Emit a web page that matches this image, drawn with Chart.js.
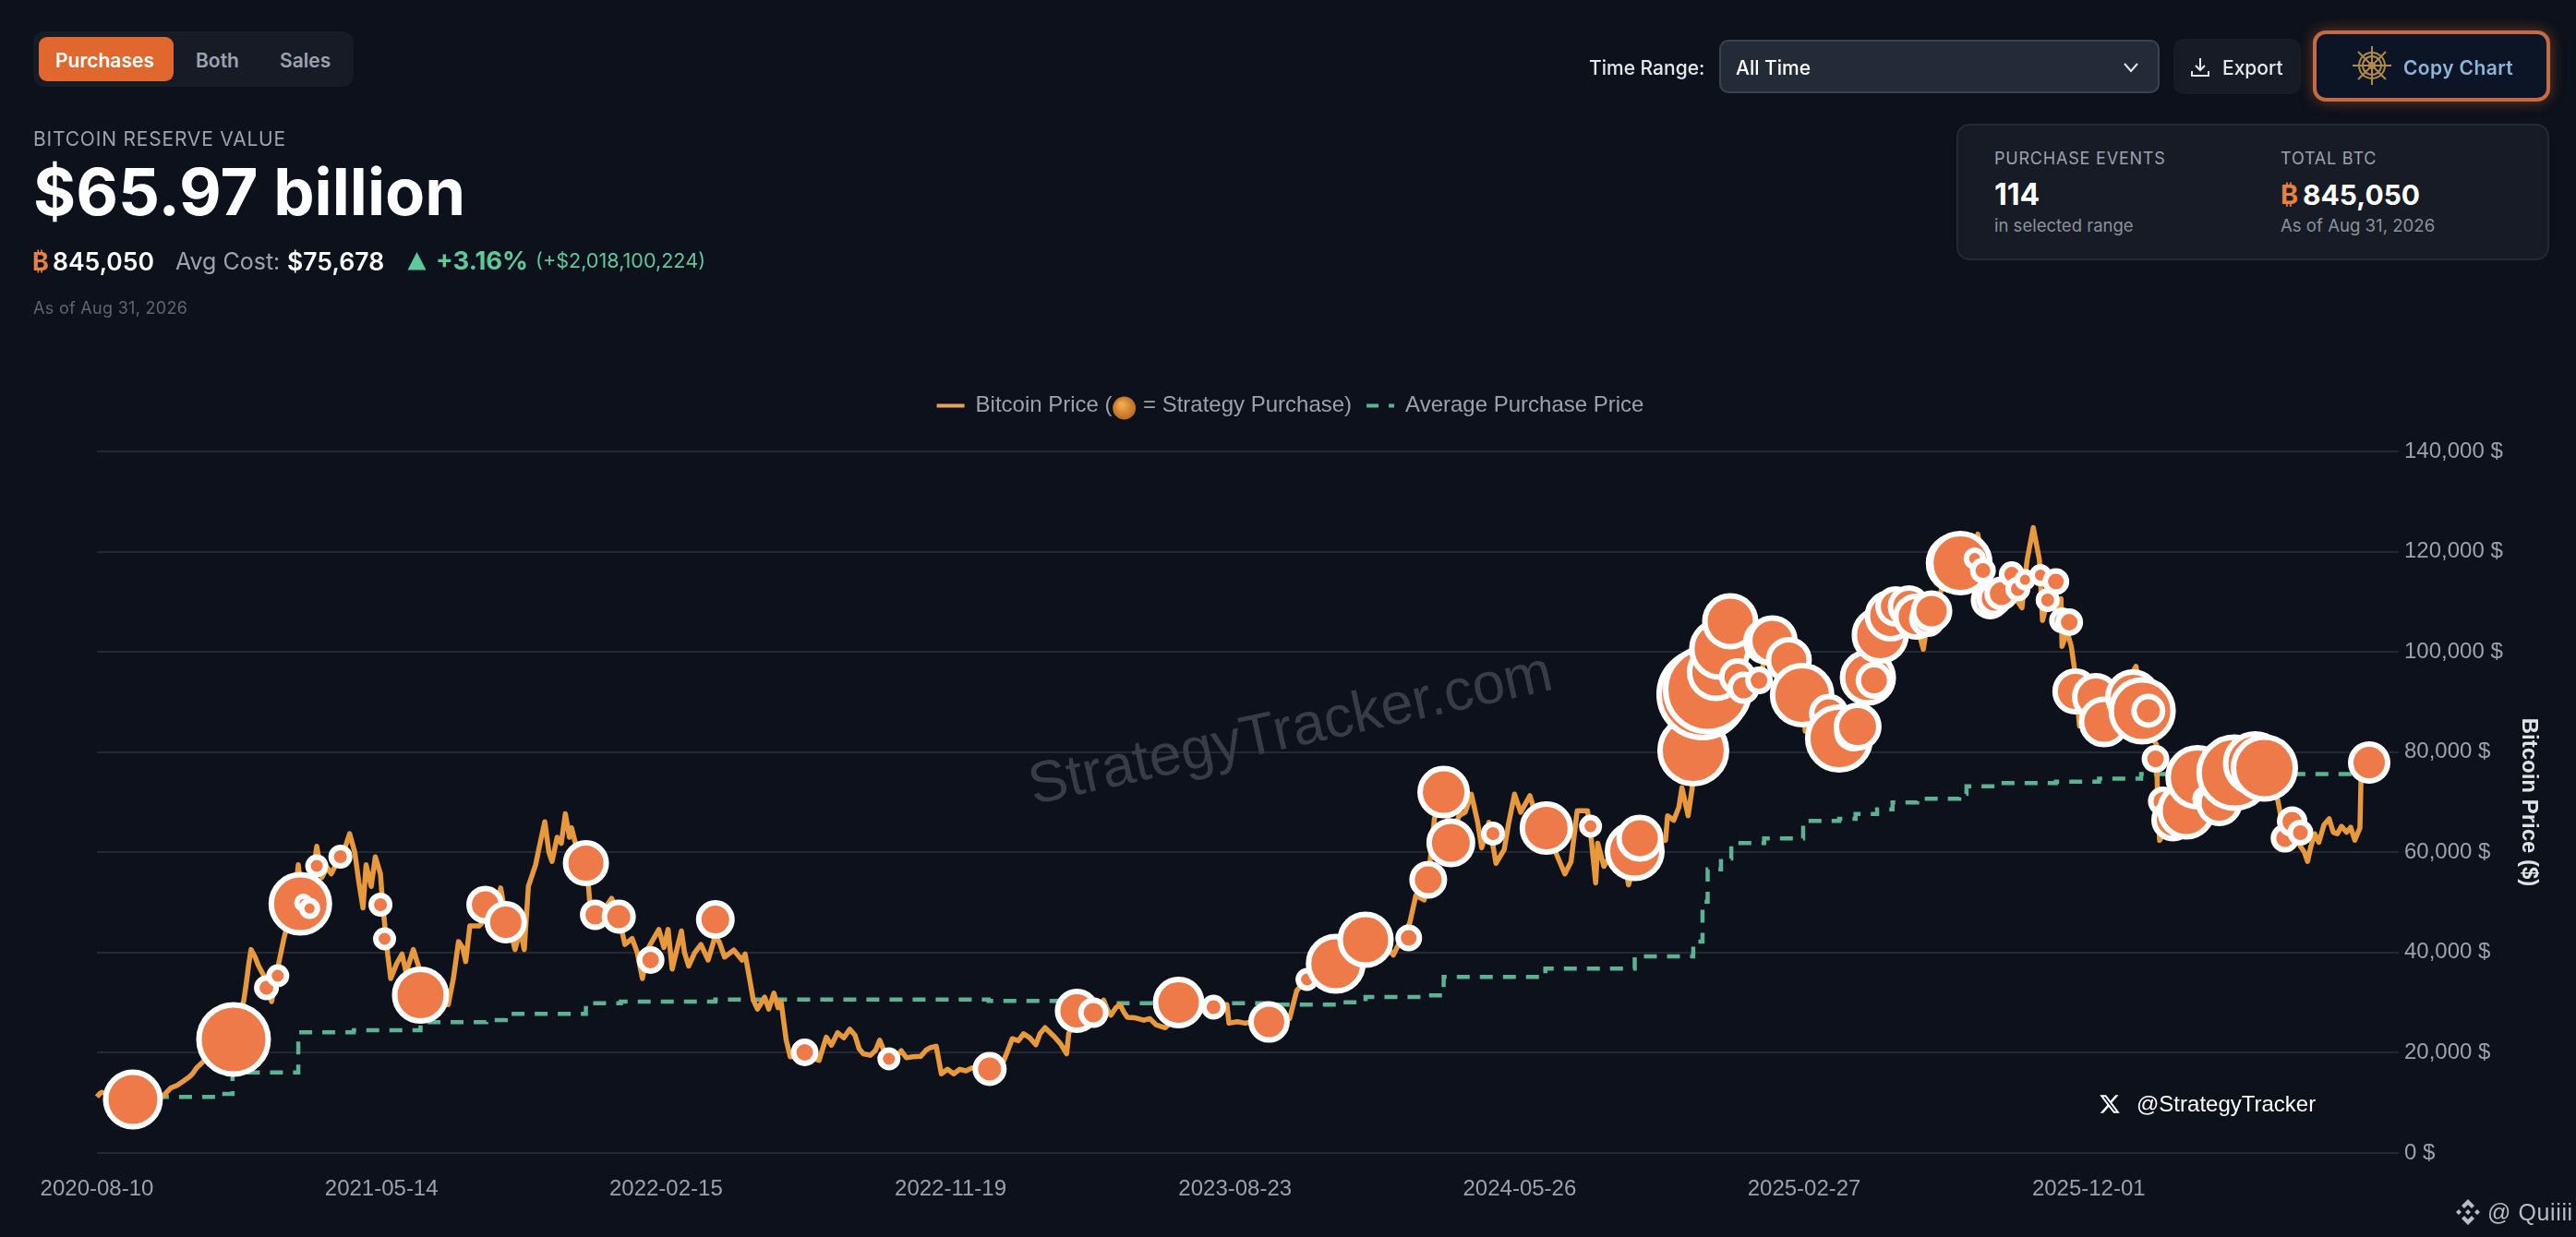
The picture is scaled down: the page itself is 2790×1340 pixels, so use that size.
<!DOCTYPE html>
<html>
<head>
<meta charset="utf-8">
<title>Strategy Tracker</title>
<script src="https://cdn.jsdelivr.net/npm/chart.js@4"></script>
<style>
html, body { margin: 0; padding: 0; width: 2790px; height: 1340px; background: #0c111b; overflow: hidden; font-family: Inter, "Liberation Sans", sans-serif; }
canvas { position: absolute; left: 0; top: 0; }
.t { position: absolute; white-space: nowrap; line-height: 1; transform: translateY(-50%); }
.box { position: absolute; box-sizing: border-box; }
.btc { color: #e8803f; font-family: "DejaVu Sans", Inter, sans-serif; font-weight: 700; }
</style>
</head>
<body>
<canvas id="myChart" width="2790" height="1340"></canvas>

<div class="box" style="left:36px;top:34px;width:347px;height:60px;background:#171b26;border-radius:12px"></div>
<div class="box" style="left:42px;top:40px;width:146px;height:48px;background:#e0672e;border-radius:9px"></div>
<div class="t" style="left:60px;top:65px;font-size:21px;font-weight:600;color:#fff">Purchases</div>
<div class="t" style="left:212px;top:65px;font-size:21px;font-weight:600;color:#9ca3af">Both</div>
<div class="t" style="left:303px;top:65px;font-size:21px;font-weight:600;color:#9ca3af">Sales</div>

<div class="t" style="left:36px;top:150px;font-size:21px;letter-spacing:.8px;color:#9ca3af">BITCOIN RESERVE VALUE</div>
<div class="t" style="left:36px;top:208px;font-size:70.5px;font-weight:700;color:#fff">$65.97 billion</div>

<div class="t btc" style="left:35px;top:283px;font-size:27px">₿</div>
<div class="t" style="left:57px;top:283px;font-size:26.5px;font-weight:600;color:#fff">845,050</div>
<div class="t" style="left:190px;top:283px;font-size:25px;color:#9ca3af">Avg Cost:</div>
<div class="t" style="left:311px;top:283px;font-size:26.6px;font-weight:600;color:#fff">$75,678</div>
<svg class="box" style="left:441px;top:272px" width="21" height="21" viewBox="0 0 21 21"><path d="M10.5 1 L20.5 20.5 L0.5 20.5 Z" fill="#5fc898"/></svg>
<div class="t" style="left:472px;top:283px;font-size:27.5px;font-weight:700;color:#5fc898">+3.16%</div>
<div class="t" style="left:580px;top:283px;font-size:21.6px;color:#5fc898">(+$2,018,100,224)</div>
<div class="t" style="left:36px;top:334px;font-size:18px;letter-spacing:.3px;color:#5f6571">As of Aug 31, 2026</div>

<div class="t" style="left:1721px;top:73px;font-size:21px;font-weight:500;color:#e5e7eb">Time Range:</div>
<div class="box" style="left:1862px;top:43px;width:477px;height:58px;background:#232a38;border:2px solid #3b4250;border-radius:10px"></div>
<div class="t" style="left:1880px;top:73px;font-size:21px;font-weight:500;color:#fff">All Time</div>
<svg class="box" style="left:2299px;top:66px" width="18" height="14" viewBox="0 0 18 14"><path d="M2 3 L9 11 L16 3" fill="none" stroke="#e5e7eb" stroke-width="2"/></svg>
<div class="box" style="left:2354px;top:42px;width:138px;height:60px;background:#171b26;border-radius:10px"></div>
<svg class="box" style="left:2373px;top:62px" width="20" height="22" viewBox="0 0 20 22"><path d="M10 1 V14 M5 9 L10 14 L15 9 M1 15 V20 H19 V15" fill="none" stroke="#e5e7eb" stroke-width="2"/></svg>
<div class="t" style="left:2407px;top:73px;font-size:21px;font-weight:500;color:#e5e7eb">Export</div>
<div class="box" style="left:2505px;top:33px;width:257px;height:77px;background:#0b1526;border:4px solid #c46a45;border-radius:14px;box-shadow:0 0 16px rgba(224,103,46,.45)"></div>
<svg class="box" style="left:2547px;top:49px" width="44" height="44" viewBox="-22 -22 44 44" fill="none" stroke="#b08a4a" stroke-width="2"><circle r="14"/><circle r="10"/><circle r="3" fill="#b08a4a"/><path d="M0 -21 V21 M-21 0 H21 M-15 -15 L15 15 M-15 15 L15 -15"/></svg>
<div class="t" style="left:2603px;top:73px;font-size:21px;font-weight:600;letter-spacing:.4px;color:#8fb4d8">Copy Chart</div>

<div class="box" style="left:2119px;top:134px;width:642px;height:148px;background:#171b26;border:2px solid #232834;border-radius:14px"></div>
<div class="t" style="left:2160px;top:172px;font-size:18px;letter-spacing:.8px;color:#9ca3af">PURCHASE EVENTS</div>
<div class="t" style="left:2160px;top:211px;font-size:32px;font-weight:700;color:#fff">114</div>
<div class="t" style="left:2160px;top:244px;font-size:18.5px;color:#8b919c">in selected range</div>
<div class="t" style="left:2470px;top:172px;font-size:18px;letter-spacing:.8px;color:#9ca3af">TOTAL BTC</div>
<div class="t btc" style="left:2470px;top:211px;font-size:29px">₿</div>
<div class="t" style="left:2494px;top:211px;font-size:30px;font-weight:700;color:#fff">845,050</div>
<div class="t" style="left:2470px;top:244px;font-size:18.6px;color:#8b919c">As of Aug 31, 2026</div>

<svg class="box" style="left:2273px;top:1184px" width="24" height="24" viewBox="0 0 24 24"><path fill="#fff" d="M18.244 2.25h3.308l-7.227 8.26 8.502 11.24H16.17l-5.214-6.817L4.99 21.75H1.68l7.73-8.835L1.254 2.25H8.08l4.713 6.231zm-1.161 17.52h1.833L7.084 4.126H5.117z"/></svg>
<div class="t" style="left:2314px;top:1196px;font-family:'Liberation Sans';font-size:24px;color:#fff">@StrategyTracker</div>

<svg class="box" style="left:2659px;top:1298px" width="28" height="30" viewBox="-14 -15 28 30" fill="#b9bcc2"><path d="M0 -14 L7 -7 L4 -4 L0 -8 L-4 -4 L-7 -7 Z M0 14 L7 7 L4 4 L0 8 L-4 4 L-7 7 Z M0 -3 L3 0 L0 3 L-3 0 Z M-10 -3 L-7 0 L-10 3 L-13 0 Z M10 -3 L13 0 L10 3 L7 0 Z"/></svg>
<div class="t" style="left:2694px;top:1313px;font-family:'Liberation Sans';font-size:25px;letter-spacing:.6px;color:#b9bcc2">@ Quiiii</div>

<script>
const startDate = '2020-08-10';
const xTickLabels = ['2020-08-10', '2021-05-14', '2022-02-15', '2022-11-19', '2023-08-23', '2024-05-26', '2025-02-27', '2025-12-01'];
const yTickValues = [0, 20000, 40000, 60000, 80000, 100000, 120000, 140000];

// BTC price, days since startDate
const priceDays = [0, 3, 5, 10, 20, 35, 50, 65, 72, 78, 83, 90, 93, 97, 105, 115, 125, 133, 140, 143, 145, 148, 150, 154, 157, 159, 164, 170, 175, 177, 182, 188, 193, 196, 200, 207, 214, 219, 224, 228, 235, 240, 246, 251, 255, 259, 262, 267, 271, 276, 278, 283, 286, 292, 297, 301, 308, 313, 320, 330, 338, 342, 347, 352, 356, 359, 363, 372, 380, 388, 393, 398, 403, 407, 412, 416, 420, 427, 432, 436, 440, 443, 448, 452, 456, 460, 462, 468, 474, 478, 480, 490, 501, 507, 514, 521, 526, 531, 537, 547, 552, 556, 560, 565, 569, 572, 576, 582, 588, 595, 602, 606, 611, 620, 628, 631, 636, 639, 643, 647, 650, 654, 659, 663, 666, 671, 675, 689, 695, 703, 710, 715, 721, 727, 733, 738, 742, 746, 753, 758, 762, 768, 775, 783, 788, 794, 802, 807, 811, 817, 822, 828, 834, 840, 846, 852, 860, 870, 880, 886, 891, 897, 902, 908, 914, 918, 923, 928, 932, 938, 944, 946, 952, 960, 970, 980, 984, 987, 992, 996, 1000, 1003, 1010, 1019, 1025, 1031, 1040, 1050, 1060, 1075, 1090, 1100, 1102, 1110, 1118, 1130, 1141, 1150, 1161, 1165, 1168, 1175, 1185, 1195, 1206, 1220, 1235, 1250, 1262, 1270, 1278, 1284, 1292, 1296, 1302, 1311, 1318, 1326, 1332, 1338, 1344, 1348, 1355, 1362, 1370, 1374, 1380, 1386, 1395, 1400, 1411, 1420, 1429, 1435, 1441, 1451, 1455, 1459, 1461, 1467, 1475, 1484, 1491, 1500, 1515, 1527, 1529, 1535, 1540, 1543, 1549, 1553, 1555, 1563, 1572, 1580, 1590, 1597, 1605, 1618, 1628, 1640, 1650, 1660, 1663, 1686, 1696, 1712, 1724, 1736, 1746, 1760, 1772, 1778, 1782, 1796, 1810, 1824, 1831, 1838, 1847, 1860, 1874, 1877, 1879, 1885, 1891, 1894, 1899, 1907, 1912, 1913, 1918, 1922, 1925, 1930, 1946, 1954, 1970, 1985, 1991, 2000, 2005, 2006, 2008, 2021, 2034, 2045, 2066, 2081, 2101, 2110, 2123, 2130, 2137, 2145, 2149, 2152, 2155, 2159, 2163, 2168, 2173, 2177, 2181, 2185, 2190, 2194, 2198, 2203, 2204, 2205, 2212];
const priceValues = [11200, 11900, 12100, 11800, 11000, 10700, 10900, 11500, 13000, 13500, 14200, 15200, 15800, 17000, 18500, 19200, 19000, 22700, 28000, 30500, 33300, 38000, 40600, 39100, 37500, 36700, 34800, 30200, 35500, 37900, 42800, 47500, 52000, 57500, 50000, 51000, 61200, 55000, 57000, 55700, 58500, 60000, 63700, 60000, 54000, 48900, 57500, 53200, 59100, 55700, 50000, 39700, 34800, 37900, 39700, 36000, 40600, 37300, 32000, 33000, 31500, 29600, 34800, 42200, 41000, 38200, 45300, 45300, 47000, 48000, 52900, 47000, 44000, 40600, 44500, 40600, 53200, 57500, 62400, 66100, 60000, 58200, 63000, 61800, 67700, 63000, 64900, 60000, 57000, 54500, 49500, 47500, 50800, 48000, 41600, 42800, 40000, 34800, 41000, 44600, 41000, 44600, 36700, 41000, 44300, 40000, 37300, 40000, 41600, 38500, 43400, 42000, 39100, 40500, 38500, 39700, 34000, 30500, 28700, 30000, 31100, 28700, 31900, 29000, 30200, 22500, 19200, 19500, 19000, 18500, 23100, 21500, 24000, 23000, 24700, 23500, 20800, 19800, 19500, 20500, 22500, 19500, 18500, 20400, 19000, 19200, 19300, 20500, 21000, 21300, 15800, 16700, 15800, 16700, 16400, 17000, 16800, 16700, 17000, 20100, 22800, 22400, 23800, 23000, 21600, 23800, 25000, 24000, 23200, 21800, 19800, 23800, 27500, 28000, 28000, 30500, 28500, 27500, 29000, 29600, 28000, 27100, 27000, 26500, 26800, 25600, 25000, 27000, 30000, 29800, 29500, 29600, 25900, 26200, 25900, 26500, 26200, 26800, 26800, 30000, 32400, 34000, 34500, 36500, 37500, 42000, 42500, 42500, 39500, 42800, 45900, 51400, 50500, 54500, 66700, 72000, 63000, 67300, 68000, 71600, 66100, 60900, 66000, 57800, 60600, 65500, 71600, 68000, 71300, 68000, 64800, 60000, 55700, 58100, 68300, 68300, 62000, 53900, 61800, 57200, 60000, 62000, 53500, 60000, 62000, 62400, 67300, 66400, 69000, 72900, 67300, 72900, 80300, 91500, 96000, 100500, 106000, 95000, 92800, 94300, 102000, 98500, 97000, 91400, 84200, 87700, 82700, 85000, 94800, 103300, 107200, 108500, 105000, 100500, 106000, 112500, 117500, 119000, 123500, 116000, 110700, 113000, 108800, 115000, 118300, 124800, 118300, 106300, 110300, 108000, 110600, 101100, 104000, 101100, 96800, 85200, 91000, 86000, 92000, 97100, 88200, 83000, 81500, 70000, 62400, 66500, 68300, 75000, 70000, 75900, 77700, 76800, 70400, 62800, 66100, 61200, 60000, 58200, 61000, 63700, 62000, 65500, 66700, 64000, 63700, 65200, 64000, 65000, 62400, 64900, 74100, 77800, 77900];

// average purchase price, new level on each of these days
const avgDays = [35, 118, 132, 196, 250, 315, 379, 398, 476, 480, 510, 602, 868, 954, 1141, 1207, 1235, 1296, 1311, 1410, 1497, 1554, 1563, 1568, 1581, 1591, 1623, 1661, 1696, 1712, 1733, 1748, 1772, 1813, 1820, 1851, 1907, 1949, 1990, 2212];
const avgValues = [11200, 11790, 16090, 24070, 24500, 26100, 26520, 27750, 29600, 29900, 30210, 30640, 30330, 29900, 29600, 30080, 31130, 31440, 35120, 36780, 39230, 42180, 50150, 56610, 58760, 61830, 62750, 66250, 66700, 67660, 68580, 69940, 70700, 71650, 73190, 73800, 74100, 74720, 75640, 75678];

// purchases: day, BTC price at that day, BTC bought
const purchaseDays = [35, 133, 165, 176, 198, 201, 207, 214, 237, 276, 280, 315, 378, 398, 476, 485, 508, 539, 602, 689, 771, 869, 954, 970, 1053, 1087, 1141, 1178, 1206, 1235, 1277, 1296, 1311, 1318, 1359, 1411, 1454, 1497, 1502, 1554, 1563, 1568, 1576, 1580, 1590, 1597, 1603, 1618, 1625, 1631, 1647, 1660, 1686, 1696, 1710, 1714, 1724, 1730, 1736, 1746, 1751, 1764, 1771, 1782, 1786, 1810, 1814, 1828, 1836, 1843, 1847, 1854, 1864, 1870, 1877, 1892, 1899, 1907, 1913, 1920, 1926, 1946, 1954, 1982, 1991, 1997, 2004, 2011, 2021, 2034, 2045, 2052, 2066, 2081, 2101, 2110, 2130, 2137, 2145, 2212];
const purchasePrices = [10680, 22660, 32970, 35370, 49730, 49920, 48810, 57290, 59130, 49550, 42730, 31500, 49550, 46050, 57840, 47520, 47160, 38500, 46600, 20080, 18790, 16760, 28370, 28000, 30020, 29100, 26160, 34630, 37760, 42550, 42920, 54520, 72020, 61890, 63730, 64840, 65210, 60230, 62810, 80310, 91550, 92470, 95970, 100570, 106100, 95050, 92840, 94310, 102050, 102230, 98360, 91360, 87680, 82710, 84000, 85100, 94860, 94310, 103340, 107200, 109050, 109050, 107020, 106650, 108130, 117700, 117700, 118630, 116230, 110340, 110700, 111630, 115490, 112550, 114390, 115310, 110340, 114020, 106280, 105920, 92100, 90990, 86020, 90990, 88230, 88230, 78650, 70180, 66500, 68340, 74970, 70730, 69810, 75890, 77730, 76810, 62810, 66130, 63920, 77920];
const purchaseBtc = [21750, 35150, 2750, 2250, 24800, 1225, 1800, 2250, 2500, 2500, 2250, 19600, 7650, 10000, 12100, 4550, 6000, 3600, 8100, 3600, 2250, 6000, 11000, 4550, 15600, 2750, 9500, 2250, 21750, 18900, 3300, 7650, 16250, 13800, 2500, 16900, 2250, 21750, 12650, 32400, 55200, 51750, 20300, 23250, 18900, 7200, 5250, 3600, 12100, 15000, 12100, 25600, 8550, 28900, 8100, 13200, 18900, 7200, 19600, 15600, 9000, 10000, 12100, 7200, 9500, 22500, 25600, 2025, 3025, 8100, 6800, 6000, 3025, 2750, 1800, 2025, 2500, 3300, 3025, 3600, 12100, 13200, 15000, 18200, 28050, 6000, 3600, 4225, 10500, 20300, 25600, 2750, 12100, 37050, 25600, 28050, 3900, 4550, 3025, 10000];

const legendPrice = 'Bitcoin Price (     = Strategy Purchase)';
const legendAvg = 'Average Purchase Price';
const orange = '#e8993c';
const green = '#5db391';
const labelGrey = '#9ca1ab';

function dayOf(dateStr) {
	return Math.round((Date.parse(dateStr) - Date.parse(startDate)) / 86400000);
}

Chart.defaults.font.family = '"Liberation Sans", Arial, sans-serif';
Chart.defaults.font.size = 24;
Chart.defaults.color = labelGrey;

// watermark under the lines, coin in the legend
const extras = {
	id: 'extras',
	afterLayout(chart) {
		// legend sits on the page centre and higher than the layout would put it
		const l = chart.legend;
		l.left -= 33;
		l.right -= 33;
		l.top = 411.6;
	},
	beforeDatasetsDraw(chart) {
		const ctx = chart.ctx;
		ctx.save();
		ctx.translate(1398, 792);
		ctx.rotate(-12.5 * Math.PI / 180);
		ctx.font = '63px "Liberation Sans"';
		ctx.textAlign = 'center';
		ctx.textBaseline = 'middle';
		ctx.fillStyle = '#383c47';
		ctx.fillText('StrategyTracker.com', 0, 0);
		ctx.restore();
	},
	afterDraw(chart) {
		const ctx = chart.ctx;
		const l = chart.legend;
		const start = (l.left + 16 + l.right - l.lineWidths[0]) / 2;
		ctx.save();
		ctx.font = '24px "Liberation Sans"';
		const x = start + 30 + 12 + ctx.measureText('Bitcoin Price (').width + 13;
		const y = l.top + 16 + 14.4;
		const g = ctx.createRadialGradient(x - 3, y - 4, 2, x, y, 13);
		g.addColorStop(0, '#f2a94f');
		g.addColorStop(1, '#b96a1c');
		ctx.fillStyle = g;
		ctx.beginPath();
		ctx.arc(x, y, 12.5, 0, Math.PI * 2);
		ctx.fill();
		ctx.restore();
	},
};

new Chart(document.getElementById('myChart').getContext('2d'), {
	type: 'line',
	plugins: [extras],
	data: {
		datasets: [
			{
				type: 'bubble',
				data: purchaseDays.map((d, i) => ({ x: d, y: purchasePrices[i], r: 0.2 * Math.sqrt(purchaseBtc[i]) })),
				backgroundColor: '#ee7a4a',
				borderColor: '#ffffff',
				borderWidth: 6,
				clip: false,
				order: 0,
			},
			{
				label: legendPrice,
				data: priceDays.map((d, i) => ({ x: d, y: priceValues[i] })),
				borderColor: orange,
				borderWidth: 5.5,
				pointRadius: 0,
				borderJoinStyle: 'round',
				clip: false,
				order: 1,
			},
			{
				label: legendAvg,
				data: avgDays.map((d, i) => ({ x: d, y: avgValues[i] })),
				borderColor: green,
				borderWidth: 4.5,
				borderDash: [14, 11],
				pointRadius: 0,
				stepped: true,
				order: 2,
			},
		],
	},
	options: {
		responsive: false,
		animation: false,
		devicePixelRatio: 1,
		layout: { padding: { left: 105, right: 34, top: 439, bottom: 12.2 } },
		plugins: {
			tooltip: { enabled: false },
			legend: {
				position: 'top',
				labels: {
					usePointStyle: true,
					pointStyleWidth: 30,
					padding: 16,
					color: labelGrey,
					font: { size: 24 },
					generateLabels: () => [
						{ text: legendPrice, strokeStyle: '#e5a35e', fontColor: labelGrey, lineWidth: 4, pointStyle: 'line', lineDash: [], datasetIndex: 1 },
						{ text: legendAvg, strokeStyle: green, fontColor: labelGrey, lineWidth: 4, pointStyle: 'line', lineDash: [13, 11], datasetIndex: 2 },
					],
				},
			},
		},
		scales: {
			x: {
				type: 'linear',
				min: 0,
				max: dayOf('2026-08-31'),
				offset: false,
				border: { display: false },
				grid: { display: false, drawTicks: false },
				afterBuildTicks(scale) {
					scale.ticks = xTickLabels.map((l) => ({ value: dayOf(l) }));
				},
				ticks: {
					autoSkip: false,
					maxRotation: 0,
					padding: 25,
					callback: (v, i) => xTickLabels[i],
				},
			},
			y: {
				position: 'right',
				min: 0,
				max: 140000,
				border: { display: false },
				grid: { color: '#242833', lineWidth: 2, tickColor: '#242833', tickLength: 32 },
				afterBuildTicks(scale) {
					scale.ticks = yTickValues.map((v) => ({ value: v }));
				},
				afterFit(scale) {
					scale.width = 190;
				},
				ticks: {
					padding: 6,
					callback: (v) => v.toLocaleString('en-US') + ' $',
				},
				title: {
					display: true,
					text: 'Bitcoin Price ($)',
					color: '#e0e2e6',
					font: { size: 24, weight: 'bold' },
					padding: { top: 3, bottom: 0 },
				},
			},
		},
	},
});
</script>
</body>
</html>
